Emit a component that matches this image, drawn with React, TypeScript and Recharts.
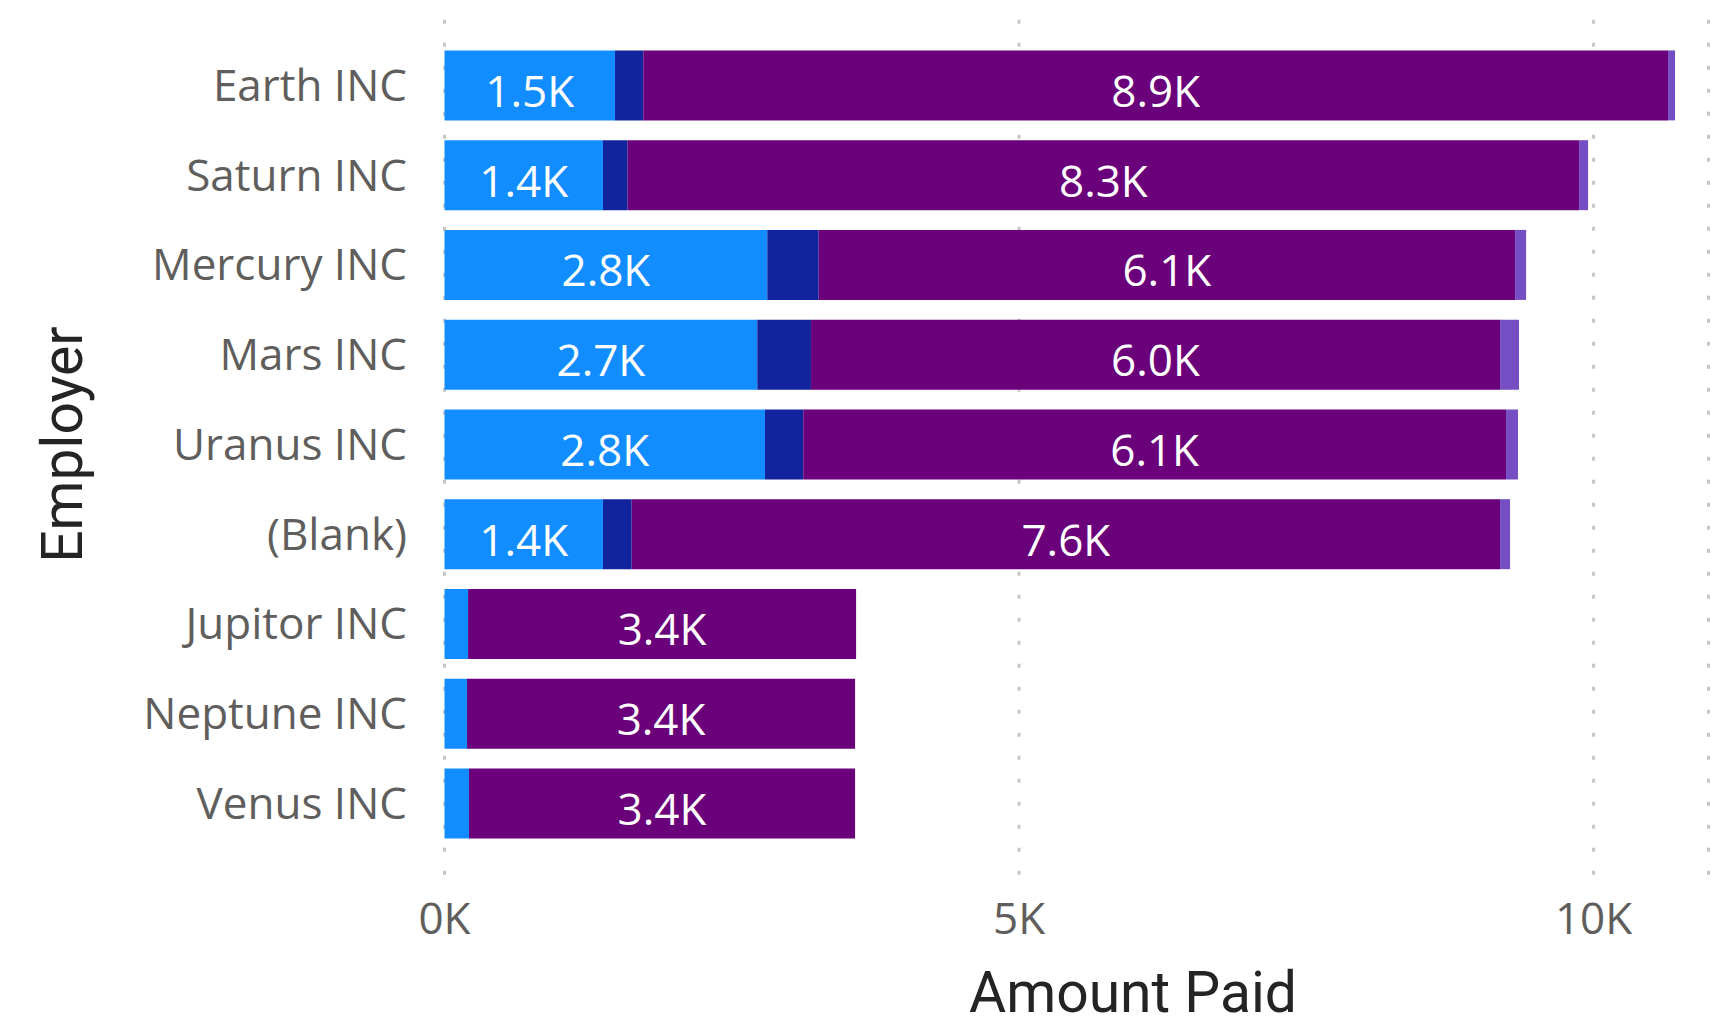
import { BarChart, Bar, XAxis, YAxis, CartesianGrid, LabelList, Label } from "recharts";

const employers = [
  "Earth INC",
  "Saturn INC",
  "Mercury INC",
  "Mars INC",
  "Uranus INC",
  "(Blank)",
  "Jupitor INC",
  "Neptune INC",
  "Venus INC",
];

// amount paid, split in four stacked parts
const partA = [1484, 1379, 2809, 2722, 2789, 1379, 205, 196, 213];
const partB = [246, 215, 447, 467, 333, 250, 0, 0, 0];
const partC = [8918, 8280, 6061, 5997, 6116, 7557, 3377, 3377, 3360];
const partD = [61, 78, 96, 165, 104, 87, 0, 0, 0];

const xTicks = [0, 5000, 10000];

const data = employers.map((employer, i) => ({
  employer,
  partA: partA[i],
  partB: partB[i],
  partC: partC[i],
  partD: partD[i],
}));

const bodyFont = '"Segoe UI", "Open Sans", sans-serif';
const titleFont = 'Roboto, "DejaVu Sans", sans-serif';

const fmtK = (v: number) => (v / 1000).toFixed(1) + "K";

const BarValue = (props: any) => {
  const { x, y, width, height, value } = props;
  if (width < 100) return null;
  return (
    <text
      x={x + width / 2}
      y={y + height / 2 + 21.5}
      textAnchor="middle"
      fill="#ffffff"
      fontFamily={bodyFont}
      fontSize={44}
    >
      {fmtK(value)}
    </text>
  );
};

const YTitle = (props: any) => {
  const vb = props.viewBox;
  const cx = vb.x + 81.7;
  const cy = vb.y + vb.height / 2 - 4;
  return (
    <text
      x={cx}
      y={cy}
      transform={`rotate(-90, ${cx}, ${cy})`}
      textAnchor="middle"
      fill="#252423"
      fontFamily={titleFont}
      fontSize={57}
    >
      Employer
    </text>
  );
};

const XTitle = (props: any) => {
  const vb = props.viewBox;
  return (
    <text
      x={vb.x + 688.5}
      y={vb.y + 134.5}
      textAnchor="middle"
      fill="#252423"
      fontFamily={titleFont}
      fontSize={57}
    >
      Amount Paid
    </text>
  );
};

export default function App() {
  return (
    <div style={{ position: "absolute", left: 0, top: 0, background: "#fff" }}>
      <BarChart
        width={1716}
        height={1017}
        data={data}
        layout="vertical"
        barSize={70}
        margin={{ top: 19.7, right: 7.5, bottom: 0, left: 0 }}
      >
        <CartesianGrid
          horizontal={false}
          stroke="#C8C6C4"
          strokeWidth={3}
          strokeDasharray="4 19"
        />
        <XAxis
          type="number"
          domain={[0, 11000]}
          ticks={xTicks}
          tickFormatter={(v: number) => v / 1000 + "K"}
          axisLine={false}
          tickLine={false}
          tickSize={0}
          tickMargin={24.8}
          height={139.5}
          tick={{ fill: "#605E5C", fontSize: 44, fontFamily: bodyFont }}
        >
          <Label content={<XTitle />} />
        </XAxis>
        <YAxis
          type="category"
          dataKey="employer"
          width={444.5}
          axisLine={false}
          tickLine={false}
          tickSize={0}
          tickMargin={37.5}
          padding={{ top: 20.7, bottom: 29.3 }}
          interval={0}
          tick={{ fill: "#605E5C", fontSize: 44, fontFamily: bodyFont }}
        >
          <Label content={<YTitle />} />
        </YAxis>
        <Bar dataKey="partA" stackId="a" fill="#118DFF" isAnimationActive={false}>
          <LabelList dataKey="partA" content={<BarValue />} />
        </Bar>
        <Bar dataKey="partB" stackId="a" fill="#12239E" isAnimationActive={false} />
        <Bar dataKey="partC" stackId="a" fill="#6B007B" isAnimationActive={false}>
          <LabelList dataKey="partC" content={<BarValue />} />
        </Bar>
        <Bar dataKey="partD" stackId="a" fill="#744EC2" isAnimationActive={false} />
      </BarChart>
    </div>
  );
}
